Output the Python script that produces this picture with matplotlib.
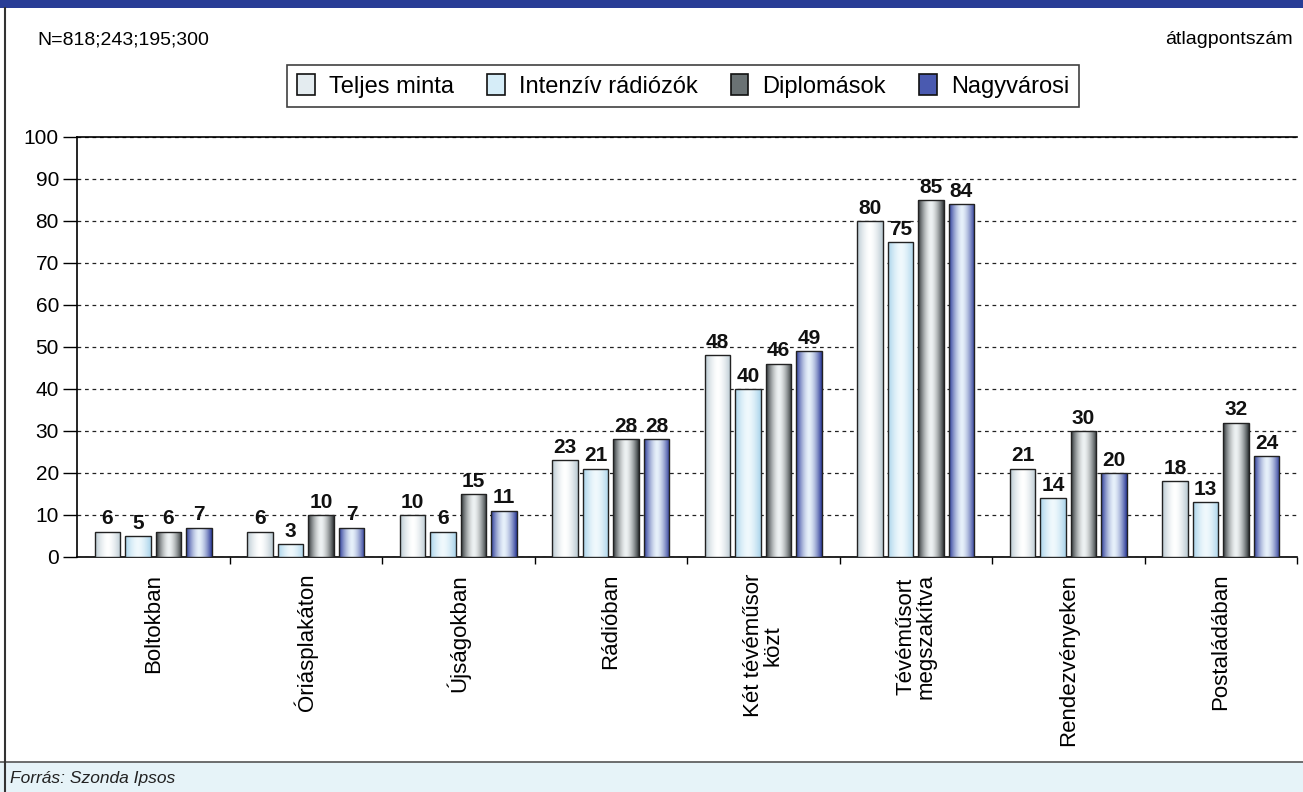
import numpy as np
import matplotlib
matplotlib.use("Agg")
import matplotlib.pyplot as plt
from matplotlib.patches import Rectangle, Patch
from matplotlib.colors import LinearSegmentedColormap

plt.rcParams['font.family'] = ['Liberation Sans', 'DejaVu Sans']

categories = ["Boltokban", "Óriásplakáton", "Újságokban", "Rádióban",
              "Két tévéműsor\nközt", "Tévéműsort\nmegszakítva",
              "Rendezvényeken", "Postaládában"]
series = ["Teljes minta", "Intenzív rádiózók", "Diplomások", "Nagyvárosi"]
teljes = [6, 6, 10, 23, 48, 80, 21, 18]
intenziv = [5, 3, 6, 21, 40, 75, 14, 13]
diplomasok = [6, 10, 15, 28, 46, 85, 30, 32]
nagyvarosi = [7, 7, 11, 28, 49, 84, 20, 24]
values = [teljes, intenziv, diplomasok, nagyvarosi]
yticks = list(range(0, 101, 10))

# edge colour / centre colour of the cylinder-like gradient
edge_cols = ["#b9c9d1", "#a9d3ea", "#2f3537", "#2b3a98"]
mid_cols = ["#ffffff", "#f0f9fd", "#eef2f3", "#e6f0fa"]
legend_cols = ["#e4ecf0", "#d6edf8", "#6a7274", "#4a5ab0"]

fig = plt.figure(figsize=(13.03, 7.92), dpi=100)
ax = fig.add_axes([77 / 1303, 1 - 557 / 792, 1220 / 1303, 420 / 792])

x = np.arange(len(categories))
bw = 0.17
offsets = [-0.3, -0.1, 0.1, 0.3]
grad_x = np.linspace(-1, 1, 64)
profile = np.abs(grad_x) ** 1.6
for k, vals in enumerate(values):
    cmap = LinearSegmentedColormap.from_list("c%d" % k, [mid_cols[k], edge_cols[k]])
    bars = ax.bar(x + offsets[k], vals, bw, facecolor="none",
                  edgecolor="#222222", linewidth=1.0, zorder=4)
    for rect, v in zip(bars, vals):
        bx, bwid, bh = rect.get_x(), rect.get_width(), rect.get_height()
        im = ax.imshow(profile[None, :], cmap=cmap, vmin=0, vmax=1,
                       extent=[bx, bx + bwid, 0, bh], aspect="auto",
                       interpolation="bilinear", zorder=3)
        im.set_clip_path(rect)
        ax.text(bx + bwid / 2, bh + 0.8, str(v), ha="center", va="bottom",
                fontsize=15, fontweight="bold", color="#111111", zorder=5)

ax.set_xlim(-0.5, len(categories) - 0.5)
ax.set_ylim(0, 100)
ax.set_yticks(yticks)
ax.set_yticklabels([str(t) for t in yticks], fontsize=15)
ax.yaxis.grid(True, linestyle=(0, (3, 3)), color="#222222", linewidth=0.9)
ax.set_axisbelow(True)
ax.tick_params(axis="y", direction="out", length=10, width=1, pad=3)

ax.set_xticks(x + 0.5, minor=True)
ax.set_xticks([])
ax.tick_params(axis="x", which="minor", direction="out", length=5, width=1)
for i, lab in enumerate(categories):
    ax.text(i, -4, lab, rotation=90, ha="center", va="top",
            fontsize=16, linespacing=0.95, transform=ax.transData)

ax.spines["right"].set_visible(False)
ax.spines["top"].set_linewidth(1.2)
ax.spines["left"].set_linewidth(1.2)
ax.spines["bottom"].set_linewidth(1.2)

handles = [Patch(facecolor=legend_cols[k], edgecolor="#111111", linewidth=1.2)
           for k in range(len(series))]
leg = fig.legend(handles, series, loc="center", bbox_to_anchor=(683 / 1303, 1 - 86 / 792),
                 ncol=4, fontsize=17, frameon=True, fancybox=False,
                 edgecolor="#111111", handlelength=0.75, handleheight=1.0,
                 handletextpad=0.6, columnspacing=1.4, borderpad=0.4,
                 borderaxespad=0)
leg.get_frame().set_linewidth(1.2)

fig.text(37 / 1303, 1 - 40 / 792, "N=818;243;195;300", fontsize=14, va="center")
fig.text(1293 / 1303, 1 - 40 / 792, "átlagpontszám", fontsize=14, va="center", ha="right")

# frame: blue banner, left border, footer band
fig.patches.append(Rectangle((0, 1 - 8 / 792), 1, 8 / 792, transform=fig.transFigure,
                             facecolor="#283d96", edgecolor="none", zorder=0))
fig.patches.append(Rectangle((0, 0), 1, 30 / 792, transform=fig.transFigure,
                             facecolor="#e6f3f8", edgecolor="none", zorder=0))
fig.lines.append(plt.Line2D([0, 1], [30 / 792, 30 / 792], transform=fig.transFigure,
                            color="#555555", linewidth=1.2))
fig.lines.append(plt.Line2D([5 / 1303, 5 / 1303], [0, 1 - 8 / 792], transform=fig.transFigure,
                            color="#333333", linewidth=1.5))
fig.text(10 / 1303, 14 / 792, "Forrás: Szonda Ipsos", fontsize=12.5, style="italic",
         va="center", color="#222222")

fig.savefig("out.png", dpi=100)
